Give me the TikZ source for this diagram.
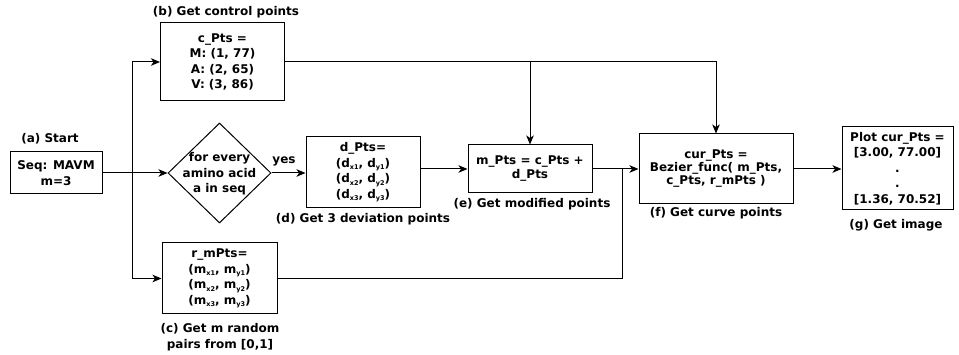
\documentclass[tikz,border=0pt]{standalone}
\usepackage{fontspec}
\setmainfont{DejaVu Sans}
\usetikzlibrary{shapes.geometric,arrows.meta}
\newcommand{\subx}[1]{\raisebox{-0.35ex}{\fontsize{6.5pt}{6.5pt}\selectfont #1}}
\begin{document}
\begin{tikzpicture}[x=1pt,y=-1pt,
  font=\fontsize{12}{15.5}\selectfont\bfseries,
  box/.style={draw, line width=1pt, inner sep=0pt, align=center},
  lbl/.style={inner sep=0pt, align=center},
  arr/.style={-{Stealth[length=9pt,width=7.5pt,inset=2.5pt]}, line width=1pt},
  ln/.style={line width=1pt}]
\useasboundingbox (0,0) rectangle (959,355);

% boxes
\node[box, minimum width=92pt, minimum height=42pt] (start) at (56,173) {Seq: MAVM\\m=3};
\node[box, minimum width=124pt, minimum height=78pt] (cpts) at (222.5,62) {c\_Pts =\\M: (1, 77)\\A: (2, 65)\\V: (3, 86)};
\node[diamond, draw, line width=1pt, inner sep=0pt, minimum width=103pt, minimum height=100pt] (dia) at (219.5,173) {};
\node[lbl] (diatext) at (219.5,174) {for every\\amino acid\\a in seq};
\node[box, minimum width=114pt, minimum height=71pt] (dpts) at (363,172.5) {d\_Pts=\\(d\subx{x1}, d\subx{y1})\\(d\subx{x2}, d\subx{y2})\\(d\subx{x3}, d\subx{y3})};
\node[box, minimum width=124pt, minimum height=48pt, font=\fontsize{12}{14}\selectfont\bfseries] (mpts) at (530,169) {m\_Pts = c\_Pts +\\d\_Pts};
\node[box, minimum width=154pt, minimum height=70pt, font=\fontsize{12}{13}\selectfont\bfseries] (curpts) at (716,169) {cur\_Pts =\\Bezier\_func( m\_Pts,\\c\_Pts, r\_mPts )};
\node[box, minimum width=111pt, minimum height=83pt] (plot) at (897.5,168.5) {Plot cur\_Pts =\\{}[3.00, 77.00]\\.\\.\\{}[1.36, 70.52]};
\node[box, minimum width=115pt, minimum height=71pt] (rmpts) at (219.5,278.5) {r\_mPts=\\(m\subx{x1}, m\subx{y1})\\(m\subx{x2}, m\subx{y2})\\(m\subx{x3}, m\subx{y3})};

% labels
\node[lbl] (la) at (50,139) {(a) Start};
\node[lbl] (lb) at (226,12) {(b) Get control points};
\node[lbl] (lc) at (220,337) {(c) Get m random\\pairs from [0,1]};
\node[lbl] (ld) at (363,219) {(d) Get 3 deviation points};
\node[lbl] (le) at (532,204) {(e) Get modified points};
\node[lbl] (lf) at (716,213) {(f) Get curve points};
\node[lbl] (lg) at (896,225) {(g) Get image};
\node[lbl] (yes) at (284,161) {yes};

% coordinates
\coordinate (j1) at (132,173);
\coordinate (j2) at (530,62);
\coordinate (j4) at (622,169);

% connectors
\draw[arr] (start.east) -- (dia.west);
\draw[arr] (j1) |- (cpts.west);
\draw[arr] (j1) |- (rmpts.west);
\draw[arr] (dia.east) -- (dpts.west |- dia.east);
\draw[arr] (dpts.east |- mpts.west) -- (mpts.west);
\draw[arr] (cpts.east) -| (curpts.north);
\draw[arr] (j2) -- (mpts.north);
\draw[arr] (mpts.east) -- (curpts.west);
\draw[ln] (rmpts.east) -| (j4);
\draw[arr] (curpts.east) -- (plot.west |- curpts.east);
\end{tikzpicture}
\end{document}
